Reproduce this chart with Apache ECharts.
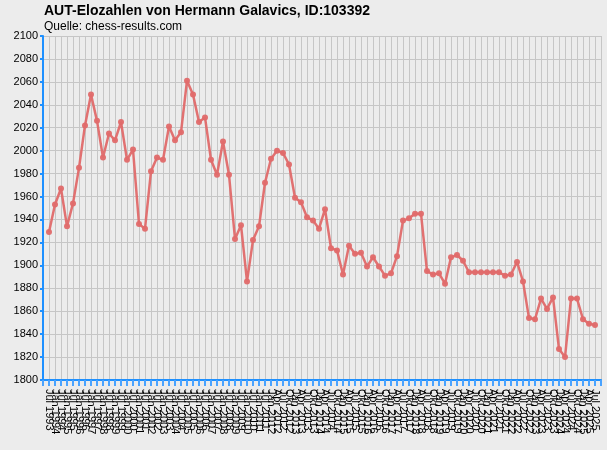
<!DOCTYPE html>
<html>
<head>
<meta charset="utf-8">
<script src="https://cdn.jsdelivr.net/npm/echarts@6/dist/echarts.min.js"></script>
<style>
html,body{margin:0;padding:0;background:#ececec;}
#c{width:607px;height:450px;}
</style>
</head>
<body>
<div id="c"></div>
<script>
var categories = [
 'Jul 1993','Jan 1994','Jul 1994','Jan 1995','Jul 1995','Jan 1996','Jul 1996','Jan 1997','Jul 1997','Jan 1998',
 'Jul 1998','Jan 1999','Jul 1999','Jan 2000','Jul 2000','Jan 2001','Jul 2001','Jan 2002','Jul 2002','Jan 2003',
 'Jul 2003','Jan 2004','Jul 2004','Jan 2005','Jul 2005','Jan 2006','Jul 2006','Jan 2007','Jul 2007','Jan 2008',
 'Jul 2008','Jan 2009','Jul 2009','Jan 2010','Jul 2010','Jan 2011','Jul 2011','Jan 2012','Apr 2012','Jul 2012',
 'Okt 2012','Jan 2013','Apr 2013','Jul 2013','Okt 2013','Jan 2014','Apr 2014','Jul 2014','Okt 2014','Jan 2015',
 'Apr 2015','Jul 2015','Okt 2015','Jan 2016','Apr 2016','Jul 2016','Okt 2016','Jan 2017','Apr 2017','Jul 2017',
 'Okt 2017','Jan 2018','Apr 2018','Jul 2018','Okt 2018','Jan 2019','Apr 2019','Jul 2019','Okt 2019','Jan 2020',
 'Apr 2020','Jul 2020','Okt 2020','Jan 2021','Apr 2021','Jul 2021','Okt 2021','Jan 2022','Apr 2022','Jul 2022',
 'Okt 2022','Jan 2023','Apr 2023','Jul 2023','Okt 2023','Jan 2024','Apr 2024','Jul 2024','Okt 2024','Jan 2025',
 'Apr 2025','Jul 2025'
];
var elo = [
 1929,1953,1967,1934,1954,1985,2022,2049,2026,1994,
 2015,2009,2025,1992,2001,1936,1932,1982,1994,1992,
 2021,2009,2016,2061,2049,2025,2029,1992,1979,2008,
 1979,1923,1935,1886,1922,1934,1972,1993,2000,1998,
 1988,1959,1955,1942,1939,1932,1949,1915,1913,1892,
 1917,1910,1911,1899,1907,1899,1891,1893,1908,1939,
 1941,1945,1945,1895,1892,1893,1884,1907,1909,1904,
 1894,1894,1894,1894,1894,1894,1891,1892,1903,1886,
 1854,1853,1871,1862,1872,1827,1820,1871,1871,1853,
 1849,1848
];
var yTicks = [1800,1820,1840,1860,1880,1900,1920,1940,1960,1980,2000,2020,2040,2060,2080,2100];
var titleText = 'AUT-Elozahlen von Hermann Galavics, ID:103392';
var subText = 'Quelle: chess-results.com';

var font = 'Liberation Sans, Arial, sans-serif';
var chart = echarts.init(document.getElementById('c'));
chart.setOption({
  backgroundColor: '#ececec',
  animation: false,
  title: [
    {text: titleText, left: 44, top: 4, padding: 0, textStyle: {fontFamily: font, fontSize: 14, fontWeight: 'bold', color: '#000'}},
    {text: subText, left: 44, top: 21, padding: 0, textStyle: {fontFamily: font, fontSize: 12, fontWeight: 'normal', color: '#000'}}
  ],
  grid: {left: 43, right: 6, top: 36, bottom: 70},
  xAxis: {
    type: 'value',
    min: -1, max: categories.length, interval: 1,
    axisLine: {show: true, onZero: false, lineStyle: {color: '#1e90ff', width: 2}},
    axisTick: {show: true, length: 6, lineStyle: {color: '#4aa3ff', width: 2}},
    axisLabel: {
      rotate: -90, margin: 9, fontSize: 11, fontFamily: font, color: '#000',
      formatter: function (v) { return categories[v] || ''; }
    },
    splitLine: {show: true, lineStyle: {color: '#c6c6c6', width: 1}}
  },
  yAxis: {
    type: 'value',
    min: yTicks[0], max: yTicks[yTicks.length - 1], interval: yTicks[1] - yTicks[0],
    axisLine: {show: true, onZero: false, lineStyle: {color: '#1e90ff', width: 2}},
    axisTick: {show: true, length: 3, lineStyle: {color: '#1e90ff', width: 2}},
    axisLabel: {fontSize: 11, fontFamily: font, color: '#000', margin: 5,
      formatter: function (v) { return String(v); }},
    splitLine: {show: true, lineStyle: {color: '#c6c6c6', width: 1}}
  },
  series: [{
    type: 'line',
    data: elo.map(function (v, i) { return [i, v]; }),
    symbol: 'circle',
    symbolSize: 6,
    showAllSymbol: true,
    lineStyle: {color: '#e06a6a', width: 2.5, opacity: 0.95},
    itemStyle: {color: '#e06a6a', opacity: 0.95}
  }]
});
</script>
</body>
</html>
